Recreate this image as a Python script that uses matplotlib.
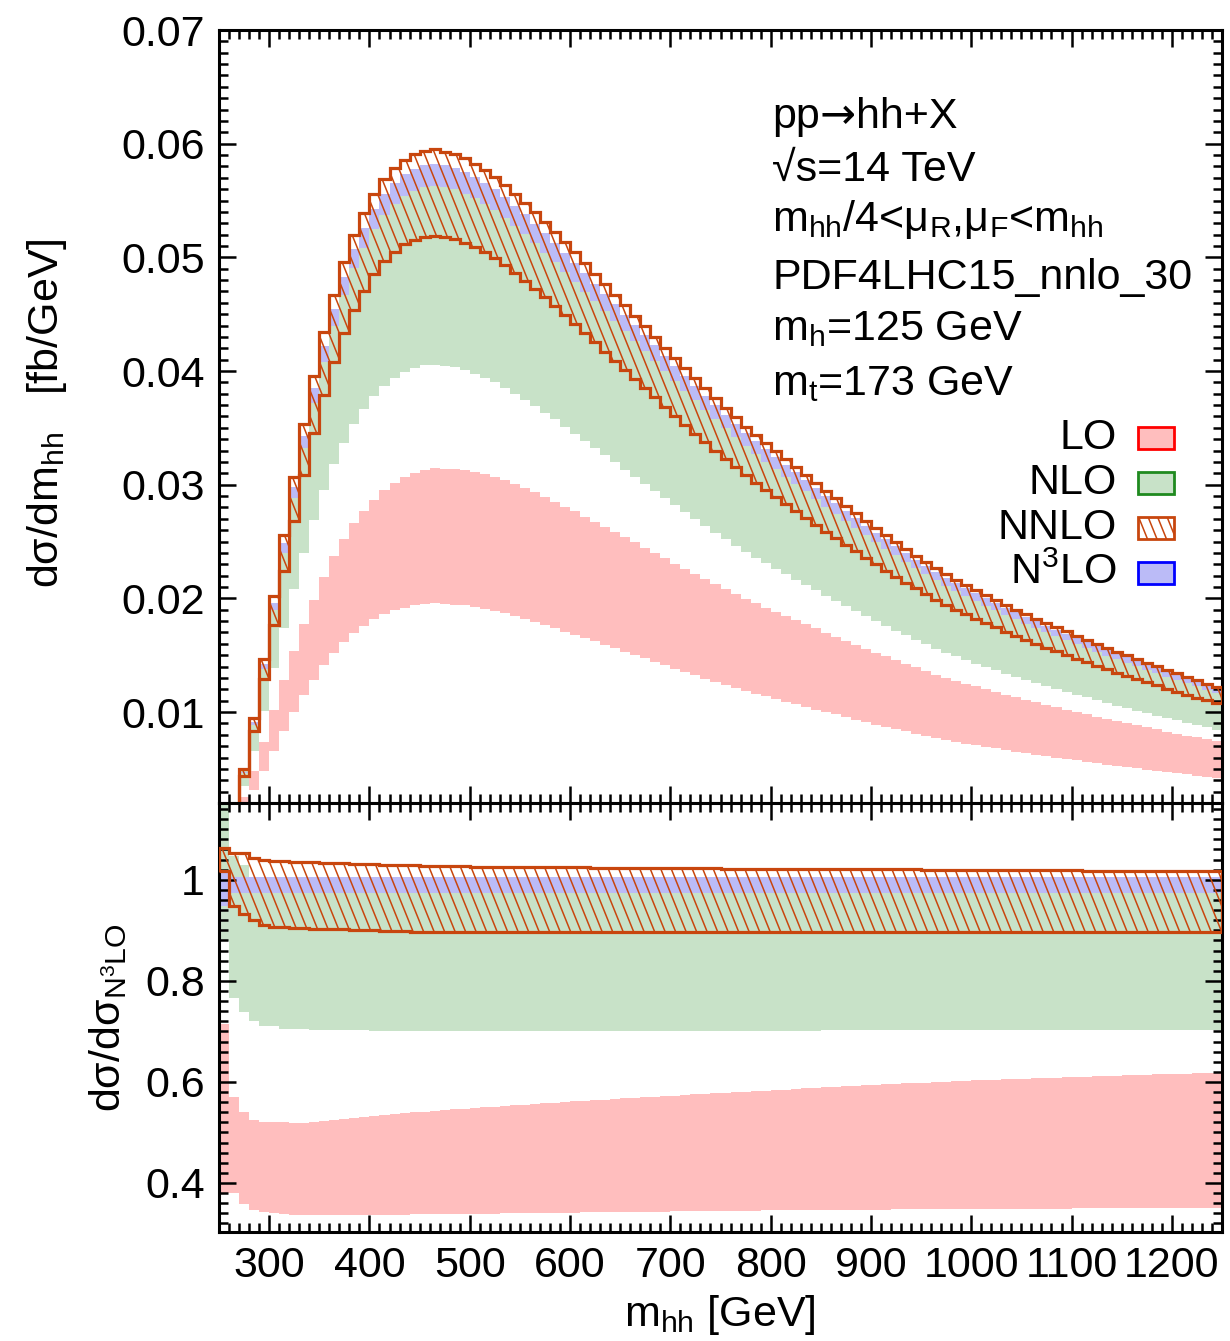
import numpy as np
import matplotlib
matplotlib.use("Agg")
import matplotlib.pyplot as plt
from matplotlib.collections import LineCollection
from matplotlib.patches import Rectangle
from matplotlib.ticker import MultipleLocator, FixedLocator, FuncFormatter

# bin edges in m_hh [GeV], 10 GeV bins
edges = np.arange(250, 1251, 10)

# N3LO central value per bin [fb/GeV]
n3lo_central = np.array([
    0.0005, 0.0018, 0.00474, 0.00910, 0.01415, 0.01946, 0.02469, 0.02963, 0.03411, 0.03826,
    0.04197, 0.04521, 0.04802, 0.05039, 0.05223, 0.05393, 0.05524, 0.05621, 0.05695, 0.05743,
    0.05778, 0.05788, 0.05774, 0.05755, 0.05716, 0.05673, 0.05624, 0.05565, 0.05497, 0.05419,
    0.05346, 0.05265, 0.05182, 0.05098, 0.05010, 0.04920, 0.04830, 0.04740, 0.04650, 0.04560,
    0.04470, 0.04380, 0.04290, 0.04200, 0.04110, 0.04020, 0.03932, 0.03846, 0.03760, 0.03676,
    0.03594, 0.03514, 0.03436, 0.03362, 0.03292, 0.03224, 0.03157, 0.03090, 0.03022, 0.02952,
    0.02884, 0.02820, 0.02756, 0.02693, 0.02625, 0.02562, 0.02503, 0.02444, 0.02385, 0.02328,
    0.02272, 0.02220, 0.02169, 0.02121, 0.02076, 0.02032, 0.01990, 0.01948, 0.01906, 0.01865,
    0.01826, 0.01787, 0.01749, 0.01712, 0.01677, 0.01641, 0.01605, 0.01571, 0.01537, 0.01504,
    0.01472, 0.01440, 0.01408, 0.01377, 0.01347, 0.01317, 0.01288, 0.01259, 0.01230, 0.01202,
])

# scale bands as ratio to N3LO central (lower panel)
lo_hi = np.array([
    0.715, 0.571, 0.540, 0.525, 0.521, 0.521, 0.520, 0.519, 0.519, 0.520,
    0.522, 0.524, 0.526, 0.528, 0.530, 0.532, 0.534, 0.536, 0.538, 0.540,
    0.541, 0.543, 0.544, 0.546, 0.547, 0.549, 0.550, 0.551, 0.553, 0.554,
    0.555, 0.557, 0.558, 0.559, 0.560, 0.562, 0.563, 0.564, 0.565, 0.566,
    0.568, 0.569, 0.570, 0.571, 0.572, 0.573, 0.575, 0.576, 0.577, 0.578,
    0.579, 0.580, 0.581, 0.582, 0.583, 0.584, 0.585, 0.586, 0.587, 0.588,
    0.589, 0.590, 0.591, 0.592, 0.593, 0.594, 0.595, 0.596, 0.597, 0.598,
    0.598, 0.599, 0.600, 0.601, 0.602, 0.603, 0.603, 0.604, 0.605, 0.606,
    0.606, 0.607, 0.608, 0.608, 0.609, 0.610, 0.610, 0.611, 0.612, 0.612,
    0.613, 0.613, 0.614, 0.615, 0.615, 0.616, 0.616, 0.617, 0.617, 0.618,
])
lo_lo = np.array([
    0.380, 0.380, 0.358, 0.347, 0.343, 0.340, 0.338, 0.337, 0.336, 0.336,
    0.336, 0.336, 0.336, 0.336, 0.336, 0.337, 0.337, 0.337, 0.337, 0.338,
    0.338, 0.338, 0.338, 0.338, 0.339, 0.339, 0.339, 0.339, 0.340, 0.340,
    0.340, 0.340, 0.341, 0.341, 0.341, 0.341, 0.342, 0.342, 0.342, 0.342,
    0.342, 0.343, 0.343, 0.343, 0.343, 0.344, 0.344, 0.344, 0.344, 0.345,
    0.345, 0.345, 0.345, 0.345, 0.346, 0.346, 0.346, 0.346, 0.346, 0.346,
    0.346, 0.347, 0.347, 0.347, 0.347, 0.347, 0.347, 0.348, 0.348, 0.348,
    0.348, 0.348, 0.348, 0.348, 0.348, 0.349, 0.349, 0.349, 0.349, 0.349,
    0.349, 0.349, 0.349, 0.349, 0.349, 0.350, 0.350, 0.350, 0.350, 0.350,
    0.350, 0.350, 0.350, 0.350, 0.350, 0.350, 0.350, 0.350, 0.350, 0.350,
])
nlo_hi = np.array([
    1.250, 1.047, 1.030, 1.005, 0.995, 0.988, 0.985, 0.985, 0.985, 0.985,
    0.985, 0.985, 0.985, 0.985, 0.985, 0.985, 0.985, 0.985, 0.985, 0.985,
    0.985, 0.985, 0.985, 0.985, 0.985, 0.985, 0.985, 0.985, 0.985, 0.985,
    0.985, 0.985, 0.985, 0.985, 0.985, 0.985, 0.985, 0.985, 0.985, 0.985,
    0.985, 0.985, 0.985, 0.985, 0.985, 0.985, 0.985, 0.985, 0.985, 0.985,
    0.985, 0.985, 0.985, 0.985, 0.985, 0.985, 0.985, 0.985, 0.985, 0.985,
    0.985, 0.985, 0.985, 0.985, 0.985, 0.985, 0.985, 0.985, 0.985, 0.985,
    0.985, 0.985, 0.985, 0.985, 0.985, 0.985, 0.985, 0.985, 0.985, 0.985,
    0.985, 0.985, 0.985, 0.985, 0.985, 0.985, 0.985, 0.985, 0.985, 0.985,
    0.985, 0.985, 0.985, 0.985, 0.985, 0.985, 0.985, 0.985, 0.985, 0.985,
])
nlo_lo = np.array([
    0.879, 0.767, 0.738, 0.721, 0.711, 0.711, 0.704, 0.704, 0.704, 0.703,
    0.703, 0.703, 0.702, 0.702, 0.702, 0.701, 0.701, 0.701, 0.701, 0.701,
    0.701, 0.701, 0.701, 0.701, 0.701, 0.701, 0.701, 0.701, 0.701, 0.701,
    0.701, 0.701, 0.701, 0.701, 0.701, 0.701, 0.701, 0.701, 0.701, 0.701,
    0.701, 0.701, 0.701, 0.701, 0.701, 0.701, 0.701, 0.701, 0.701, 0.701,
    0.701, 0.701, 0.701, 0.701, 0.701, 0.701, 0.701, 0.701, 0.701, 0.701,
    0.702, 0.702, 0.702, 0.702, 0.702, 0.702, 0.702, 0.702, 0.702, 0.702,
    0.702, 0.702, 0.702, 0.702, 0.702, 0.702, 0.702, 0.702, 0.702, 0.702,
    0.703, 0.703, 0.703, 0.703, 0.703, 0.703, 0.703, 0.703, 0.703, 0.703,
    0.703, 0.703, 0.703, 0.703, 0.703, 0.703, 0.703, 0.703, 0.703, 0.703,
])
nnlo_hi = np.array([
    1.062, 1.054, 1.054, 1.044, 1.039, 1.038, 1.037, 1.036, 1.035, 1.035,
    1.034, 1.033, 1.033, 1.032, 1.032, 1.031, 1.030, 1.030, 1.029, 1.029,
    1.028, 1.028, 1.027, 1.027, 1.027, 1.026, 1.026, 1.026, 1.026, 1.026,
    1.025, 1.025, 1.025, 1.025, 1.025, 1.025, 1.025, 1.024, 1.024, 1.024,
    1.024, 1.024, 1.024, 1.023, 1.023, 1.023, 1.023, 1.023, 1.023, 1.023,
    1.022, 1.022, 1.022, 1.022, 1.022, 1.022, 1.022, 1.022, 1.022, 1.022,
    1.021, 1.021, 1.021, 1.021, 1.021, 1.021, 1.021, 1.021, 1.021, 1.021,
    1.020, 1.020, 1.020, 1.020, 1.020, 1.019, 1.019, 1.019, 1.019, 1.019,
    1.019, 1.019, 1.019, 1.019, 1.019, 1.019, 1.018, 1.018, 1.018, 1.018,
    1.018, 1.018, 1.018, 1.018, 1.018, 1.018, 1.017, 1.017, 1.017, 1.017,
])
nnlo_lo = np.array([
    1.018, 0.949, 0.932, 0.920, 0.911, 0.907, 0.907, 0.905, 0.904, 0.903,
    0.903, 0.902, 0.902, 0.901, 0.901, 0.900, 0.899, 0.898, 0.898, 0.897,
    0.897, 0.897, 0.897, 0.897, 0.897, 0.897, 0.897, 0.897, 0.897, 0.897,
    0.897, 0.897, 0.897, 0.897, 0.897, 0.897, 0.897, 0.897, 0.897, 0.897,
    0.897, 0.897, 0.897, 0.897, 0.897, 0.897, 0.897, 0.897, 0.897, 0.897,
    0.897, 0.897, 0.897, 0.897, 0.897, 0.897, 0.897, 0.897, 0.897, 0.897,
    0.897, 0.897, 0.897, 0.897, 0.897, 0.897, 0.897, 0.897, 0.897, 0.897,
    0.896, 0.896, 0.896, 0.896, 0.896, 0.896, 0.896, 0.896, 0.896, 0.896,
    0.896, 0.896, 0.896, 0.896, 0.896, 0.896, 0.896, 0.896, 0.896, 0.896,
    0.896, 0.896, 0.896, 0.896, 0.896, 0.896, 0.896, 0.896, 0.896, 0.896,
])
n3lo_hi = np.array([1.018] + [1.006] * 99)
n3lo_lo = np.array([0.949] + [0.973] * 99)

info_lines = [
    "\u221as=14 TeV",
    "m$_{\\rm hh}$/4<\u03bc$_{\\rm R}$,\u03bc$_{\\rm F}$<m$_{\\rm hh}$",
    "PDF4LHC15_nnlo_30",
    "m$_{\\rm h}$=125 GeV",
    "m$_{\\rm t}$=173 GeV",
]
legend_labels = ["LO", "NLO", "NNLO", "N$^{3}$LO"]

C_LO, E_LO = "#ffbebe", "#ff0000"
C_NLO, E_NLO = "#c8e2c8", "#1f8a1f"
C_N3LO, E_N3LO = "#bbbbf7", "#0000ff"
C_NNLO = "#c8460e"
FS = 31

plt.rcParams["font.family"] = ["Liberation Sans", "DejaVu Sans"]
plt.rcParams["font.size"] = FS
plt.rcParams["mathtext.fontset"] = "custom"
plt.rcParams["mathtext.rm"] = "Liberation Sans"
plt.rcParams["mathtext.it"] = "Liberation Sans:italic"
plt.rcParams["mathtext.bf"] = "Liberation Sans:bold"

W, H = 1230, 1341
fig = plt.figure(figsize=(W / 100, H / 100), dpi=100)
fig.patch.set_facecolor("white")


def fx(px):
    return px / W


def fy(py):
    return 1 - py / H


def hatch_lines(spacing=10.5, angle=68, lw=1.1):
    # steep "\" hatch in figure space, clipped later to a patch
    dx = H / np.tan(np.radians(angle))
    starts = np.arange(-dx - 20, W + 20, spacing)
    segs = [[(x0 / W, 1.0), ((x0 + dx) / W, 0.0)] for x0 in starts]
    return LineCollection(segs, colors=C_NNLO, linewidths=lw,
                          transform=fig.transFigure)


ax1 = fig.add_axes([fx(219), fy(803), fx(1222) - fx(219), fy(30) - fy(803)])
ax2 = fig.add_axes([fx(219), fy(1232), fx(1222) - fx(219), fy(803) - fy(1232)])

for ax, scale in ((ax1, n3lo_central), (ax2, np.ones_like(n3lo_central))):
    ax.stairs(lo_hi * scale, edges, baseline=lo_lo * scale, fill=True,
              facecolor=C_LO, edgecolor="none", lw=0)
    ax.stairs(nlo_hi * scale, edges, baseline=nlo_lo * scale, fill=True,
              facecolor=C_NLO, edgecolor="none", lw=0)
    ax.stairs(n3lo_hi * scale, edges, baseline=n3lo_lo * scale, fill=True,
              facecolor=C_N3LO, edgecolor="none", lw=0)
    nnlo = ax.stairs(nnlo_hi * scale, edges, baseline=nnlo_lo * scale,
                     fill=False, edgecolor=C_NNLO, lw=2.3, zorder=3)
    lc = hatch_lines()
    ax.add_collection(lc, autolim=False)
    lc.set_clip_path(nnlo)
    lc.set_clip_box(ax.bbox)
    lc.set_zorder(2.5)

    ax.set_xlim(250, 1250)
    ax.xaxis.set_major_locator(MultipleLocator(100))
    ax.xaxis.set_minor_locator(MultipleLocator(10))
    ax.tick_params(which="both", direction="in", top=True, right=True,
                   width=1.8, labelsize=FS, pad=10)
    ax.tick_params(which="major", length=12)
    ax.tick_params(which="minor", length=6.5)
    for sp in ax.spines.values():
        sp.set_linewidth(2.2)

ax1.set_ylim(0.002, 0.07)
ax1.yaxis.set_major_locator(FixedLocator([0.01, 0.02, 0.03, 0.04, 0.05, 0.06, 0.07]))
ax1.yaxis.set_major_formatter(FuncFormatter(lambda v, p: f"{v:.2f}"))
ax1.yaxis.set_minor_locator(MultipleLocator(0.001))
ax1.tick_params(labelbottom=False)

ax2.set_ylim(0.303, 1.152)
ax2.yaxis.set_major_locator(FixedLocator([0.4, 0.6, 0.8, 1.0]))
ax2.yaxis.set_major_formatter(FuncFormatter(lambda v, p: f"{v:g}"))
ax2.yaxis.set_minor_locator(MultipleLocator(0.02))

# axis titles
fig.text(fx(58), fy(413), "d\u03c3/dm$_{\\rm hh}$   [fb/GeV]", rotation=90,
         rotation_mode="anchor", ha="center", va="baseline", fontsize=FS)
fig.text(fx(120), fy(1018), "d\u03c3/d\u03c3$_{\\rm N^{3}LO}$", rotation=90,
         rotation_mode="anchor", ha="center", va="baseline", fontsize=FS)
fig.text(fx(720), fy(1326), "m$_{\\rm hh}$ [GeV]", ha="center", va="baseline",
         fontsize=FS)

# process info; first line built from pieces to get a long arrow
renderer = fig.canvas.get_renderer()
x_cur = 772
for piece, fam in (("pp", None), ("\u2192", "DejaVu Sans"), ("hh+X", None)):
    kw = {"family": fam} if fam else {}
    t = fig.text(fx(x_cur), fy(128), piece, ha="left", va="baseline",
                 fontsize=FS, **kw)
    x_cur = t.get_window_extent(renderer).x1
for txt, yb in zip(info_lines, [181, 231, 289, 340, 395]):
    fig.text(fx(772), fy(yb), txt, ha="left", va="baseline", fontsize=FS)

# legend drawn by hand
faces = [C_LO, C_NLO, "white", C_N3LO]
edgesc = [E_LO, E_NLO, C_NNLO, E_N3LO]
for lab, fc, ec, yc in zip(legend_labels, faces, edgesc, [438, 483, 528, 573]):
    fig.text(fx(1117), fy(yc), lab, ha="right", va="center", fontsize=FS)
    rect = Rectangle((fx(1138), fy(yc + 11)), fx(36), 22 / H,
                     transform=fig.transFigure, facecolor=fc, edgecolor=ec,
                     lw=2.0, zorder=5)
    fig.add_artist(rect)
    if lab == "NNLO":
        lc = hatch_lines(spacing=9.5)
        fig.add_artist(lc)
        lc.set_clip_path(rect)
        lc.set_zorder(6)

fig.savefig("out.png", dpi=100)
